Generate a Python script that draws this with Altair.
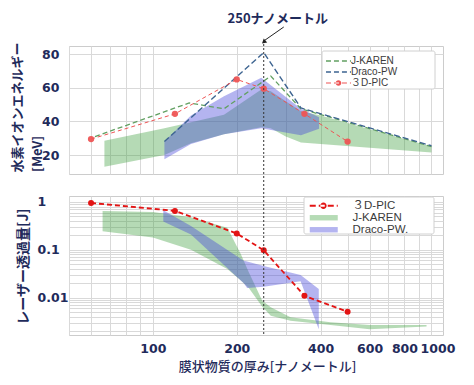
import altair as alt
import pandas as pd

# ---------------- data ----------------
series_top = ["J-KAREN", "Draco-PW", "３D-PIC"]
series_bottom = ["３D-PIC", "J-KAREN", "Draco-PW."]

# top panel: proton energy [MeV] vs thickness [nm]
jk_line_thick = [62, 135, 180, 265, 340, 1000]
jk_line_mev = [31, 51, 47.5, 67, 47.5, 25]
dr_line_thick = [110, 250, 340, 1000]
dr_line_mev = [28, 81, 48, 25.5]
pic_thick = [60, 120, 200, 250, 350, 500]
pic_mev = [29.5, 44.5, 65, 59.5, 44.5, 28]

jk_band_thick = [67, 110, 137, 180, 245, 265, 300, 340, 400, 1000]
jk_band_mev_lo = [13, 20, 27, 32.4, 36.5, 36, 31, 27.5, 26.5, 21.5]
jk_band_mev_hi = [28.5, 36, 39.5, 44, 59, 58, 52, 46, 43.5, 25]

dr_band_thick = [110, 137, 180, 245, 340, 395]
dr_band_mev_lo = [17.5, 26.5, 32.3, 36, 31.8, 35.7]
dr_band_mev_hi = [28, 43.5, 55, 66, 47.5, 42.5]

# bottom panel: laser transmission [J]
pic_joule = [0.95, 0.65, 0.22, 0.098, 0.011, 0.0051]
jk_band2_thick = [66, 100, 137, 185, 207, 221, 247, 265, 312, 434, 600, 960]
jk_band2_lo = [0.245, 0.18, 0.1, 0.04, 0.023, 0.016, 0.0065, 0.0042, 0.0033, 0.0027, 0.0022, 0.0025]
jk_band2_hi = [0.65, 0.62, 0.48, 0.29, 0.081, 0.034, 0.0087, 0.0063, 0.0039, 0.0031, 0.0027, 0.0027]
dr_band2_thick = [109, 137, 212, 218, 250, 339, 394]
dr_band2_lo = [0.39, 0.21, 0.02, 0.016, 0.017, 0.022, 0.0022]
dr_band2_hi = [0.67, 0.316, 0.059, 0.057, 0.046, 0.030, 0.0153]

# ticks / annotations
x_grid_values = [50, 60, 70, 80, 90, 100, 200, 300, 400, 500, 600, 700, 800, 900, 1000]
x_label_values = [100, 200, 400, 600, 800, 1000]
mev_ticks = [20, 40, 60, 80]
joule_grid_values = [0.002, 0.003, 0.004, 0.005, 0.006, 0.007, 0.008, 0.009,
                     0.01, 0.02, 0.03, 0.04, 0.05, 0.06, 0.07, 0.08, 0.09,
                     0.1, 0.2, 0.3, 0.4, 0.5, 0.6, 0.7, 0.8, 0.9, 1]
joule_label_values = [0.01, 0.1, 1]
marker_thickness = [250]
arrow_tail_thickness = [295]
annotation_text = "250ナノメートル"
top_y_title = "水素イオンエネルギー"
top_y_unit = "[MeV]"
bottom_y_title = "レーザー透過量[J]"
x_title = "膜状物質の厚み[ナノメートル]"

# ---------------- styles ----------------
NAVY = "#1f2b5b"
GRID = "#d9d9d9"
CJK = "Noto Sans CJK JP"
NUM_FONT = "DejaVu Sans"
LEG_FONT = "Liberation Sans, Noto Sans CJK JP"
GREEN_BAND = "#3c9f3c"
BLUE_BAND = "#4444da"
JK_LINE = "#62a062"
DR_LINE = "#3d6491"
PIC_TOP = "#ee5555"
PIC_BOT = "#e31414"
W, H1, H2, GAP = 374, 128, 139, 22


def dash_path(x0, x1, h, dash, gap):
    out = []
    x = x0
    while x < x1 - 1e-6:
        xe = min(x + dash, x1)
        out.append(f"M{x:.3f},{-h:.3f}H{xe:.3f}V{h:.3f}H{x:.3f}Z")
        x = xe + gap
    return "".join(out)


def circle_path(cx, r):
    return (f"M{cx - r:.3f},0A{r:.3f},{r:.3f},0,1,0,{cx + r:.3f},0"
            f"A{r:.3f},{r:.3f},0,1,0,{cx - r:.3f},0Z")


def rect_path(x0, x1, h):
    return f"M{x0:.3f},{-h:.3f}H{x1:.3f}V{h:.3f}H{x0:.3f}Z"


# top legend: unit = 6 px (symbolSize 144); bottom legend: unit = 5 px (symbolSize 100)
top_dash = dash_path(-1, 3.17, 0.11, 0.83, 0.5)
paths_top = [top_dash, top_dash, dash_path(-1, 3.17, 0.1, 0.83, 0.5) + circle_path(1.08, 0.47)]
paths_bottom = [dash_path(-1, 4.6, 0.2, 1.2, 0.6) + circle_path(1.74, 0.64),
                rect_path(-1, 4.6, 0.54), rect_path(-1, 4.6, 0.54)]
legend_fill_top = [JK_LINE, DR_LINE, PIC_TOP]
legend_fill_bottom = [PIC_BOT, "#b5dbb5", "#b4b4f0"]

xscale = alt.Scale(type="log", domain=[50, 1100], nice=False)
yscale_top = alt.Scale(domain=[8.7, 84.9], nice=False, zero=False)
yscale_bot = alt.Scale(type="log", domain=[0.00167, 1.33], nice=False)

x_axis_top = alt.Axis(values=x_grid_values, labels=False, ticks=False, tickSize=0, domain=False,
                      grid=True, gridColor=GRID, title=None)
x_axis_bot = alt.Axis(values=x_grid_values, format="d",
                      labelExpr=f"indexof({x_label_values}, datum.value) >= 0 ? datum.label : ''",
                      labelOffset={"condition": {"test": "datum.value == 1000", "value": 6}, "value": 0},
                      ticks=False, tickSize=0, domain=False, grid=True, gridColor=GRID,
                      labelFont=NUM_FONT, labelFontWeight="bold", labelFontSize=12.5, labelColor=NAVY,
                      labelPadding=7, labelOverlap=False, labelFlush=False,
                      title=x_title, titleFont=CJK, titleFontSize=13, titleFontWeight=500,
                      titleColor=NAVY, titlePadding=6, titleX=198)
y_axis_top = alt.Axis(values=mev_ticks, ticks=False, tickSize=0, domain=False, grid=True, gridColor=GRID,
                      labelFont=NUM_FONT, labelFontWeight="bold", labelFontSize=12.5, labelColor=NAVY,
                      labelPadding=10, title=top_y_title, titleFont=CJK, titleFontSize=13,
                      titleFontWeight="bold", titleColor=NAVY, titleAngle=270, titleAlign="left",
                      titleBaseline="bottom", titleX=-45, titleY=126)
y_axis_bot = alt.Axis(values=joule_grid_values, format="~g",
                      labelExpr=f"indexof({joule_label_values}, datum.value) >= 0 ? datum.label : ''",
                      ticks=False, tickSize=0, domain=False, grid=True, gridColor=GRID,
                      labelFont=NUM_FONT, labelFontWeight="bold", labelFontSize=12.5, labelColor=NAVY,
                      labelAlign="left", labelPadding=32, labelOverlap=False, labelFlush=False,
                      title=bottom_y_title, titleFont=CJK, titleFontSize=14, titleFontWeight="bold",
                      titleColor=NAVY, titleAngle=270, titleBaseline="bottom", titleX=-39, titleY=70)


def XT(f):
    return alt.X(f, type="quantitative", scale=xscale, axis=x_axis_top)


def YT(f):
    return alt.Y(f, type="quantitative", scale=yscale_top, axis=y_axis_top)


def XB(f):
    return alt.X(f, type="quantitative", scale=xscale, axis=x_axis_bot)


def YB(f):
    return alt.Y(f, type="quantitative", scale=yscale_bot, axis=y_axis_bot)


def legend(x, y, size, pad, offset, sym, row_pad):
    return alt.Legend(orient="none", legendX=x, legendY=y, symbolSize=sym, symbolStrokeWidth=0,
                      symbolOpacity=1, labelFont=LEG_FONT, labelFontSize=size, labelColor="#3a3a3a",
                      labelOffset=offset, padding=pad, rowPadding=row_pad)


def legend_box(x0, x1, y0, y1):
    # white frame behind the legend entries
    return alt.Chart(pd.DataFrame({"k": [0]})).mark_rect(
        fill="white", stroke="#d0d0d0", strokeWidth=1, cornerRadius=2).encode(
        x=alt.value(x0), x2=alt.value(x1), y=alt.value(y0), y2=alt.value(y1))


# ---------------- top panel ----------------
jk_band_df = pd.DataFrame({"t": jk_band_thick, "lo": jk_band_mev_lo, "hi": jk_band_mev_hi})
dr_band_df = pd.DataFrame({"t": dr_band_thick, "lo": dr_band_mev_lo, "hi": dr_band_mev_hi})
jk_line_df = pd.DataFrame({"t": jk_line_thick, "v": jk_line_mev})
dr_line_df = pd.DataFrame({"t": dr_line_thick, "v": dr_line_mev})
pic_top_df = pd.DataFrame({"t": pic_thick, "v": pic_mev})
marker_df = pd.DataFrame({"t": marker_thickness, "tail": arrow_tail_thickness})
leg_top_df = pd.DataFrame({"series": series_top})

lt = legend(253, 5, 10, 4, 13, 144, 0)
top_layers = [
    alt.Chart(jk_band_df).mark_area(color=GREEN_BAND, opacity=0.38).encode(x=XT("t"), y=YT("lo"), y2="hi"),
    alt.Chart(dr_band_df).mark_area(color=BLUE_BAND, opacity=0.4).encode(x=XT("t"), y=YT("lo"), y2="hi"),
    alt.Chart(jk_line_df).mark_line(color=JK_LINE, strokeDash=[5, 3], strokeWidth=1.3).encode(x=XT("t"), y=YT("v")),
    alt.Chart(dr_line_df).mark_line(color=DR_LINE, strokeDash=[6, 3], strokeWidth=1.4).encode(x=XT("t"), y=YT("v")),
    alt.Chart(pic_top_df).mark_line(color=PIC_TOP, strokeDash=[4, 3], strokeWidth=1).encode(x=XT("t"), y=YT("v")),
    alt.Chart(pic_top_df).mark_circle(color=PIC_TOP, size=40, opacity=0.95).encode(x=XT("t"), y=YT("v")),
    legend_box(253, 366, 5, 43),
    alt.Chart(marker_df).mark_rule(color="#333333", strokeDash=[2, 2], strokeWidth=1).encode(
        x=XT("t"), y=alt.value(-2), y2=alt.value(H1 + GAP)),
    alt.Chart(marker_df).mark_rule(color="#222222", strokeWidth=1).encode(
        x=XT("t"), x2="tail", y=alt.value(-5), y2=alt.value(-19)),
    alt.Chart(marker_df).mark_point(shape="triangle-up", filled=True, color="#222222", size=28,
                                    angle=229, opacity=1, dx=2).encode(x=XT("t"), y=alt.value(-4)),
    alt.Chart(marker_df).mark_text(text=annotation_text, font=CJK, fontSize=13, fontWeight="bold",
                                   color=NAVY, dx=14).encode(x=XT("t"), y=alt.value(-27.5)),
    alt.Chart(marker_df).mark_text(text=top_y_unit, font=CJK, fontSize=13, fontWeight="bold", color=NAVY,
                                   angle=270, align="left", baseline="middle").encode(
        x=alt.value(-31), y=alt.value(126)),
    alt.Chart(leg_top_df).mark_point(filled=True, opacity=0).encode(
        fill=alt.Fill("series:N", scale=alt.Scale(domain=series_top, range=legend_fill_top), legend=lt, title=None),
        shape=alt.Shape("series:N", scale=alt.Scale(domain=series_top, range=paths_top), legend=lt, title=None)),
]
top = alt.layer(*top_layers).properties(width=W, height=H1)

# ---------------- bottom panel ----------------
jk_band2_df = pd.DataFrame({"t": jk_band2_thick, "lo": jk_band2_lo, "hi": jk_band2_hi})
dr_band2_df = pd.DataFrame({"t": dr_band2_thick, "lo": dr_band2_lo, "hi": dr_band2_hi})
pic_bot_df = pd.DataFrame({"t": pic_thick, "v": pic_joule})
leg_bot_df = pd.DataFrame({"series": series_bottom})

lb = legend(236, 0, 11.5, 4, 32, 100, -4)
bot_layers = [
    alt.Chart(jk_band2_df).mark_area(color=GREEN_BAND, opacity=0.38).encode(x=XB("t"), y=YB("lo"), y2="hi"),
    alt.Chart(dr_band2_df).mark_area(color=BLUE_BAND, opacity=0.4).encode(x=XB("t"), y=YB("lo"), y2="hi"),
    alt.Chart(pic_bot_df).mark_line(color=PIC_BOT, strokeDash=[5, 3], strokeWidth=1.8).encode(x=XB("t"), y=YB("v")),
    alt.Chart(pic_bot_df).mark_circle(color=PIC_BOT, size=36, opacity=1).encode(x=XB("t"), y=YB("v")),
    legend_box(235, 365, 1, 38),
    alt.Chart(marker_df).mark_rule(color="#333333", strokeDash=[2, 2], strokeWidth=1).encode(
        x=XB("t"), y=alt.value(0), y2=alt.value(H2)),
    alt.Chart(leg_bot_df).mark_point(filled=True, opacity=0).encode(
        fill=alt.Fill("series:N", scale=alt.Scale(domain=series_bottom, range=legend_fill_bottom), legend=lb, title=None),
        shape=alt.Shape("series:N", scale=alt.Scale(domain=series_bottom, range=paths_bottom), legend=lb, title=None)),
]
bottom = alt.layer(*bot_layers).properties(width=W, height=H2)

chart = (
    alt.vconcat(top, bottom, spacing=GAP, bounds="flush")
    .resolve_scale(x="independent", y="independent", fill="independent", shape="independent")
    .resolve_legend(fill="independent", shape="independent")
    .properties(padding={"left": 2, "top": 4, "right": 4, "bottom": 4}, background="white")
    .configure_view(stroke="#cccccc")
)

chart.save("out.html", embed_options={"renderer": "svg", "actions": False})
